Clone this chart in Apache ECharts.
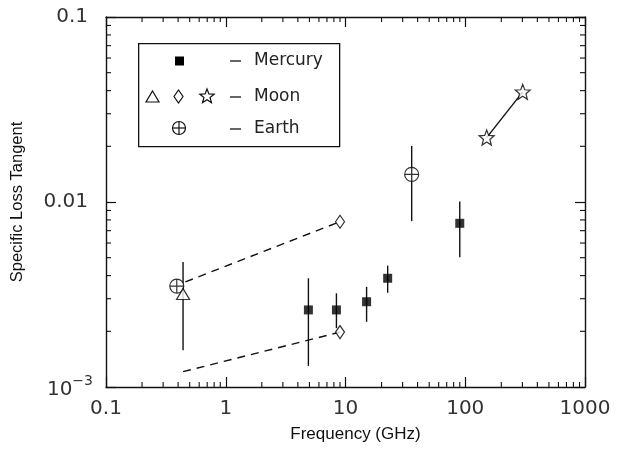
<!DOCTYPE html>
<html>
<head>
<meta charset="utf-8">
<script src="https://cdn.jsdelivr.net/npm/echarts@6/dist/echarts.min.js"></script>
<style>
  html, body { margin: 0; background: #fff; }
  #chart { width: 618px; height: 449px; }
</style>
</head>
<body>
<div id="chart"></div>
<script>
// data (frequency in GHz, specific loss tangent)
var mercuryFreq = [4.9, 8.4, 15, 22.5, 90];
var mercuryTan  = [0.00261, 0.00261, 0.00289, 0.00387, 0.00767];
var mercuryLo   = [0.0013, 0.00208, 0.00225, 0.00323, 0.00502];
var mercuryHi   = [0.00387, 0.00321, 0.00348, 0.00453, 0.01005];

var moonTriFreq = [0.44];
var moonTriTan  = [0.00318];
var moonTriLo   = [0.00158];
var moonTriHi   = [0.00474];

var moonDiaFreq = [9.0, 9.0];
var moonDiaTan  = [0.00783, 0.00198];

var moonStarFreq = [151, 302];
var moonStarTan  = [0.0223, 0.0394];

var earthFreq = [0.39, 35.7];
var earthTan  = [0.00351, 0.0141];
var earthLo   = [null, 0.00788];
var earthHi   = [null, 0.0201];

// dashed fits to the moon points
var upperFitFreq = [0.46, 9.0];
var upperFitTan  = [0.0037, 0.00783];
var lowerFitFreq = [0.44, 9.0];
var lowerFitTan  = [0.00121, 0.00198];

var xTickValues = [0.1, 1, 10, 100, 1000];
var xTickLabels = ['0.1', '1', '10', '100', '1000'];
var yTickValues = [0.001, 0.01, 0.1];
var yTickLabels = ['{b|10}{s|\u22123}', '{n|0.01}', '{n|0.1}'];

var xMinor = [0.2, 0.3, 0.4, 0.5, 0.6, 0.7, 0.8, 0.9,
              2, 3, 4, 5, 6, 7, 8, 9,
              20, 30, 40, 50, 60, 70, 80, 90,
              200, 300, 400, 500, 600, 700, 800, 900];
var yMinor = [0.002, 0.003, 0.004, 0.005, 0.006, 0.007, 0.008, 0.009,
              0.02, 0.03, 0.04, 0.05, 0.06, 0.07, 0.08, 0.09];

function pairs(xs, ys) {
  return xs.map(function (x, i) { return [x, ys[i]]; });
}
function bars(xs, los, his) {
  var out = [];
  xs.forEach(function (x, i) {
    if (los[i] != null) out.push([x, los[i], his[i]]);
  });
  return out;
}
function starPts(cx, cy, R, r) {
  var pts = [];
  for (var i = 0; i < 10; i++) {
    var a = -Math.PI / 2 + i * Math.PI / 5;
    var rr = i % 2 ? r : R;
    pts.push([cx + rr * Math.cos(a), cy + rr * Math.sin(a)]);
  }
  return pts;
}
var starSymbol = 'path://M' + starPts(0, 0, 10, 4.3).map(function (p) {
  return p[0].toFixed(2) + ',' + p[1].toFixed(2);
}).join('L') + 'Z';
var oplusSymbol = 'path://M0,-10A10,10,0,1,1,0,10A10,10,0,1,1,0,-10ZM-10,0L10,0M0,-10L0,10';

var X_MIN = 0.1, X_MAX = 1000, Y_MIN = 0.001, Y_MAX = 0.1;
var hollow = { color: '#fff', borderColor: '#000', borderWidth: 1.2 };
var tickFont = 'DejaVu Sans';

function labelOf(values, labels) {
  return function (v) {
    var k = Math.round(Math.log10(v));
    for (var i = 0; i < values.length; i++) {
      if (Math.round(Math.log10(values[i])) === k) return labels[i];
    }
    return '';
  };
}

var chart = echarts.init(document.getElementById('chart'));

var legendX = 138, legendY = 43;
chart.setOption({
  animation: false,
  backgroundColor: '#fff',
  grid: { left: 106, right: 33, top: 17, bottom: 62 },
  xAxis: [{
    type: 'log', logBase: 10, min: X_MIN, max: X_MAX,
    name: 'Frequency (GHz)', nameLocation: 'middle', nameGap: 39,
    nameTextStyle: { fontFamily: 'Liberation Sans', fontSize: 17, color: '#111', padding: [0, 0, 0, 20] },
    axisLine: { lineStyle: { color: '#111', width: 1.4 } },
    axisTick: { inside: true, length: 10, lineStyle: { color: '#111', width: 1.2 } },
    axisLabel: { fontFamily: tickFont, fontSize: 20, color: '#333', margin: 12,
                 showMinLabel: true, showMaxLabel: true,
                 formatter: labelOf(xTickValues, xTickLabels) },
    splitLine: { show: false }
  }, {
    type: 'log', logBase: 10, min: X_MIN, max: X_MAX, position: 'top',
    axisLine: { lineStyle: { color: '#111', width: 1.4 } },
    axisTick: { inside: true, length: 10, lineStyle: { color: '#111', width: 1.2 } },
    axisLabel: { show: false },
    splitLine: { show: false }
  }],
  yAxis: [{
    type: 'log', logBase: 10, min: Y_MIN, max: Y_MAX,
    name: 'Specific Loss Tangent', nameLocation: 'middle', nameGap: 80,
    nameTextStyle: { fontFamily: 'Liberation Sans', fontSize: 16.5, color: '#111' },
    axisLine: { lineStyle: { color: '#111', width: 1.4 } },
    axisTick: { inside: true, length: 10, lineStyle: { color: '#111', width: 1.2 } },
    axisLabel: {
      fontFamily: tickFont, fontSize: 20, color: '#333', margin: 13,
      showMinLabel: true, showMaxLabel: true,
      formatter: labelOf(yTickValues, yTickLabels),
      rich: {
        n: { fontFamily: tickFont, fontSize: 20, color: '#333', padding: [0, 5, 0, 0] },
        b: { fontFamily: tickFont, fontSize: 20, color: '#333', lineHeight: 26, verticalAlign: 'bottom' },
        s: { fontFamily: tickFont, fontSize: 14, color: '#333', lineHeight: 12, verticalAlign: 'top' }
      }
    },
    splitLine: { show: false }
  }, {
    type: 'log', logBase: 10, min: Y_MIN, max: Y_MAX, position: 'right',
    axisLine: { lineStyle: { color: '#111', width: 1.4 } },
    axisTick: { inside: true, length: 10, lineStyle: { color: '#111', width: 1.2 } },
    axisLabel: { show: false },
    splitLine: { show: false }
  }],
  series: [
    {
      name: 'xMinor', type: 'custom', silent: true, z: 1,
      data: xMinor.map(function (v) { return [v, Y_MIN]; }),
      encode: { x: 0, y: 1 },
      renderItem: function (params, api) {
        var p = api.coord([api.value(0), Y_MIN]);
        var cs = params.coordSys;
        var st = { stroke: '#111', lineWidth: 1.1 };
        return { type: 'group', children: [
          { type: 'line', shape: { x1: p[0], y1: cs.y + cs.height, x2: p[0], y2: cs.y + cs.height - 5 }, style: st },
          { type: 'line', shape: { x1: p[0], y1: cs.y, x2: p[0], y2: cs.y + 5 }, style: st }
        ] };
      }
    },
    {
      name: 'yMinor', type: 'custom', silent: true, z: 1,
      data: yMinor.map(function (v) { return [X_MIN, v]; }),
      encode: { x: 0, y: 1 },
      renderItem: function (params, api) {
        var p = api.coord([X_MIN, api.value(1)]);
        var cs = params.coordSys;
        var st = { stroke: '#111', lineWidth: 1.1 };
        return { type: 'group', children: [
          { type: 'line', shape: { x1: cs.x, y1: p[1], x2: cs.x + 5, y2: p[1] }, style: st },
          { type: 'line', shape: { x1: cs.x + cs.width, y1: p[1], x2: cs.x + cs.width - 5, y2: p[1] }, style: st }
        ] };
      }
    },
    {
      name: 'errors', type: 'custom', silent: true, z: 2,
      data: bars(mercuryFreq, mercuryLo, mercuryHi)
        .concat(bars(moonTriFreq, moonTriLo, moonTriHi))
        .concat(bars(earthFreq, earthLo, earthHi)),
      encode: { x: 0, y: [1, 2] },
      renderItem: function (params, api) {
        var lo = api.coord([api.value(0), api.value(1)]);
        var hi = api.coord([api.value(0), api.value(2)]);
        return { type: 'line', shape: { x1: lo[0], y1: lo[1], x2: hi[0], y2: hi[1] },
                 style: { stroke: '#111', lineWidth: 1.4 } };
      }
    },
    {
      name: 'upperFit', type: 'line', z: 2, symbol: 'none', silent: true,
      data: pairs(upperFitFreq, upperFitTan),
      lineStyle: { color: '#111', width: 1.4, type: [8, 6] }
    },
    {
      name: 'lowerFit', type: 'line', z: 2, symbol: 'none', silent: true,
      data: pairs(lowerFitFreq, lowerFitTan),
      lineStyle: { color: '#111', width: 1.4, type: [8, 6] }
    },
    {
      name: 'starLine', type: 'line', z: 2, symbol: 'none', silent: true,
      data: pairs(moonStarFreq, moonStarTan),
      lineStyle: { color: '#111', width: 1.4 }
    },
    {
      name: 'Mercury', type: 'scatter', z: 3, symbol: 'rect', symbolSize: 9,
      data: pairs(mercuryFreq, mercuryTan),
      itemStyle: { color: '#000' }
    },
    {
      name: 'Earth', type: 'scatter', z: 3, symbol: oplusSymbol, symbolSize: 14,
      data: pairs(earthFreq, earthTan),
      itemStyle: hollow
    },
    {
      name: 'Moon triangle', type: 'scatter', z: 4, symbol: 'triangle', symbolSize: [13, 11],
      data: pairs(moonTriFreq, moonTriTan),
      itemStyle: hollow
    },
    {
      name: 'Moon diamond', type: 'scatter', z: 3, symbol: 'diamond', symbolSize: [9, 13],
      data: pairs(moonDiaFreq, moonDiaTan),
      itemStyle: hollow
    },
    {
      name: 'Moon star', type: 'scatter', z: 3, symbol: starSymbol, symbolSize: 15,
      data: pairs(moonStarFreq, moonStarTan),
      itemStyle: hollow
    }
  ],
  graphic: [
    { type: 'rect', left: legendX, top: legendY, z: 10,
      shape: { width: 201, height: 103 },
      style: { fill: '#fff', stroke: '#111', lineWidth: 1.3 } },
    { type: 'rect', z: 11, shape: { x: 175, y: 56.5, width: 9, height: 9 }, style: { fill: '#000' } },
    { type: 'polygon', z: 11, shape: { points: [[152.5, 91], [159, 102], [146, 102]] },
      style: { fill: '#fff', stroke: '#111', lineWidth: 1.2 } },
    { type: 'polygon', z: 11, shape: { points: [[178.5, 90], [183, 96.5], [178.5, 103], [174, 96.5]] },
      style: { fill: '#fff', stroke: '#111', lineWidth: 1.2 } },
    { type: 'polygon', z: 11, shape: { points: starPts(207, 96.5, 7.5, 3.2) },
      style: { fill: '#fff', stroke: '#111', lineWidth: 1.2 } },
    { type: 'circle', z: 11, shape: { cx: 179, cy: 128, r: 6.5 },
      style: { fill: '#fff', stroke: '#111', lineWidth: 1.2 } },
    { type: 'line', z: 12, shape: { x1: 172.5, y1: 128, x2: 185.5, y2: 128 }, style: { stroke: '#111', lineWidth: 1.2 } },
    { type: 'line', z: 12, shape: { x1: 179, y1: 121.5, x2: 179, y2: 134.5 }, style: { stroke: '#111', lineWidth: 1.2 } },
    { type: 'line', z: 11, shape: { x1: 230, y1: 61, x2: 241, y2: 61 }, style: { stroke: '#111', lineWidth: 1.3 } },
    { type: 'line', z: 11, shape: { x1: 230, y1: 97, x2: 241, y2: 97 }, style: { stroke: '#111', lineWidth: 1.3 } },
    { type: 'line', z: 11, shape: { x1: 230, y1: 129, x2: 241, y2: 129 }, style: { stroke: '#111', lineWidth: 1.3 } },
    { type: 'text', z: 11, left: 254, top: 52,
      style: { text: 'Mercury', font: '17px "DejaVu Sans"', fill: '#222' } },
    { type: 'text', z: 11, left: 254, top: 88,
      style: { text: 'Moon', font: '17px "DejaVu Sans"', fill: '#222' } },
    { type: 'text', z: 11, left: 254, top: 120,
      style: { text: 'Earth', font: '17px "DejaVu Sans"', fill: '#222' } }
  ]
});
</script>
</body>
</html>
